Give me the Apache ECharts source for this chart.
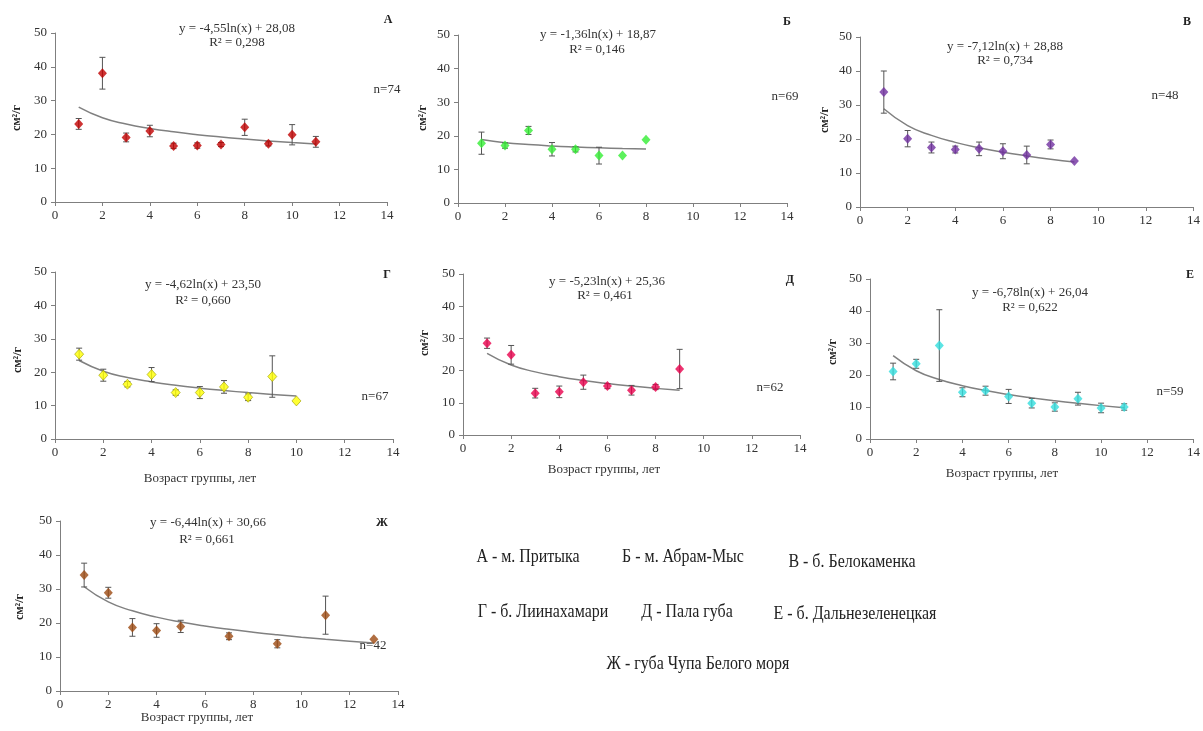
<!DOCTYPE html>
<html><head><meta charset="utf-8">
<script src="https://cdn.jsdelivr.net/npm/echarts@6/dist/echarts.min.js"></script>
<style>html,body{margin:0;padding:0;background:#fff}#c{width:1203px;height:731px}</style>
</head><body><div id="c"></div>
<script>
// ---- data ----
const xA = [1,2,3,4,5,6,7,8,9,10,11];
const yA = [23.1,38.1,19.1,21.0,16.6,16.7,17.0,22.1,17.2,19.9,17.8];
const eA = [1.6,4.7,1.3,1.7,0.8,0.8,0.6,2.4,0.6,3.0,1.6];
const tA = [28.08,24.93,23.08,21.77,20.76,19.93,19.23,18.62,18.08,17.60,17.17];

const xB = [1,2,3,4,5,6,7,8];
const yB = [17.8,17.1,21.6,16.0,16.0,14.1,14.1,18.8];
const eB = [3.3,0.8,1.2,2.0,0.8,2.5,0,0];
const tB = [18.87,17.93,17.38,16.98,16.68,16.43,16.22,16.04];

const xV = [1,2,3,4,5,6,7,8,9];
const yV = [33.8,20.1,17.5,16.9,17.1,16.4,15.3,18.4,13.5];
const eV = [6.2,2.4,1.6,1.0,2.0,2.2,2.6,1.3,0];
const tV = [28.88,23.95,21.06,19.01,17.42,16.12,15.03,14.07,13.24];

const xG = [1,2,3,4,5,6,7,8,9,10];
const yG = [25.4,19.1,16.4,19.3,13.9,13.9,15.6,12.5,18.7,11.4];
const eG = [1.8,1.8,0.8,2.1,0.8,1.8,1.9,1.0,6.2,0];
const tG = [23.50,20.30,18.42,17.10,16.06,15.22,14.51,13.89,13.35,12.86];

const xD = [1,2,3,4,5,6,7,8,9];
const yD = [28.5,24.9,13.0,13.4,16.4,15.2,13.9,14.9,20.5];
const eD = [1.6,2.9,1.5,1.8,2.2,0.8,1.5,0.8,6.1];
const tD = [25.36,21.73,19.61,18.11,16.94,15.99,15.18,14.48,13.87];

const xE = [1,2,3,4,5,6,7,8,9,10,11];
const yE = [21.1,23.5,29.2,14.6,15.1,13.3,11.2,10.0,12.6,9.7,10.0];
const eE = [2.6,1.4,11.2,1.4,1.4,2.2,1.5,1.3,2.0,1.5,1.0];
const tE = [26.04,21.34,18.59,16.64,15.13,13.89,12.85,11.94,11.14,10.43,9.78];

const xZ = [1,2,3,4,5,7,9,11,13];
const yZ = [34.1,28.9,18.7,17.8,19.0,16.1,13.9,22.3,15.2];
const eZ = [3.5,1.6,2.6,2.0,1.8,1.0,1.2,5.6,0];
const txZ = [1,2,3,4,5,6,7,8,9,10,11,12,13];
const tZ = [30.66,26.20,23.58,21.73,20.30,19.12,18.13,17.27,16.51,15.83,15.22,14.66,14.14];

const xTicks = [0,2,4,6,8,10,12,14];
const yTicks = [0,10,20,30,40,50];

const equations = ['y = -4,55ln(x) + 28,08','y = -1,36ln(x) + 18,87','y = -7,12ln(x) + 28,88',
  'y = -4,62ln(x) + 23,50','y = -5,23ln(x) + 25,36','y = -6,78ln(x) + 26,04','y = -6,44ln(x) + 30,66'];
const r2 = ['R² = 0,298','R² = 0,146','R² = 0,734','R² = 0,660','R² = 0,461','R² = 0,622','R² = 0,661'];
const letters = ['А','Б','В','Г','Д','Е','Ж'];
const nLabels = ['n=74','n=69','n=48','n=67','n=62','n=59','n=42'];
const legendTexts = ['А - м. Притыка','Б - м. Абрам-Мыс','В - б. Белокаменка',
  'Г - б. Лиинахамари','Д - Пала губа','Е - б. Дальнезеленецкая','Ж - губа Чупа Белого моря'];
const yName = 'см²/г';
const xName = 'Возраст группы, лет';

// ---- layout / style ----
const FONT = 'Liberation Serif';
const panels = [
  {x:xA,y:yA,e:eA,tx:xA,ty:tA,color:'#C00000',grid:{left:55,top:33,width:332,height:169},
   eq:[237,29],r2:[237,43],let:[388,20],n:[387,90],yn:[17,118]},
  {x:xB,y:yB,e:eB,tx:xB,ty:tB,color:'#33EE33',grid:{left:458,top:35,width:329,height:168},
   eq:[598,35],r2:[597,50],let:[787,22],n:[785,97],yn:[423,118]},
  {x:xV,y:yV,e:eV,tx:xV,ty:tV,color:'#7030A0',grid:{left:860,top:37,width:337,height:170},
   eq:[1005,47],r2:[1005,61],let:[1187,22],n:[1165,96],yn:[825,120]},
  {x:xG,y:yG,e:eG,tx:xG,ty:tG,color:'#FFFF00',border:'#A0A000',grid:{left:55,top:272,width:338,height:167},
   eq:[203,285],r2:[203,301],let:[387,275],n:[375,397],yn:[18,360],xn:[200,479]},
  {x:xD,y:yD,e:eD,tx:xD,ty:tD,color:'#E8004C',grid:{left:463,top:274,width:337,height:161},
   eq:[607,282],r2:[605,296],let:[790,280],n:[770,388],yn:[425,343],xn:[604,470]},
  {x:xE,y:yE,e:eE,tx:xE,ty:tE,color:'#33DDDD',grid:{left:870,top:279,width:324,height:160},
   eq:[1030,293],r2:[1030,308],let:[1190,275],n:[1170,392],yn:[833,352],xn:[1002,474]},
  {x:xZ,y:yZ,e:eZ,tx:txZ,ty:tZ,color:'#9C4A12',grid:{left:60,top:521,width:338,height:170},
   eq:[208,523],r2:[207,540],let:[382,523],n:[373,646],yn:[20,607],xn:[197,718]}
];
const legendPos = [[528,557],[683,557],[852,562],[543,612],[687,612],[855,614],[698,664]];

const grids=[], xAxes=[], yAxes=[], series=[], graphic=[];
const axisLineStyle = {color:'#7f7f7f', width:1};
const labelStyle = {color:'#333', fontFamily:FONT, fontSize:13};

function txt(t, pos, opts){
  return Object.assign({type:'text', x:pos[0], y:pos[1], silent:true,
    style:Object.assign({text:t, fill:'#333', font:'13px "'+FONT+'"', align:'center', verticalAlign:'middle'}, opts||{})});
}

panels.forEach((p,i)=>{
  grids.push(Object.assign({containLabel:false}, p.grid));
  xAxes.push({type:'value', gridIndex:i, min:xTicks[0], max:xTicks[xTicks.length-1], interval:xTicks[1]-xTicks[0],
    axisLine:{show:true, onZero:false, lineStyle:axisLineStyle},
    axisTick:{show:true, inside:false, length:4, lineStyle:axisLineStyle},
    axisLabel:Object.assign({margin:7}, labelStyle), splitLine:{show:false}});
  yAxes.push({type:'value', gridIndex:i, min:yTicks[0], max:yTicks[yTicks.length-1], interval:yTicks[1]-yTicks[0],
    axisLine:{show:true, lineStyle:axisLineStyle},
    axisTick:{show:true, inside:false, length:4, lineStyle:axisLineStyle},
    axisLabel:Object.assign({margin:8}, labelStyle), splitLine:{show:false}});
  series.push({type:'line', xAxisIndex:i, yAxisIndex:i, data:p.tx.map((v,k)=>[v,p.ty[k]]),
    showSymbol:false, smooth:0.5, silent:true,
    lineStyle:{color:'#808080', width:1.5}, z:2});
  series.push({type:'custom', xAxisIndex:i, yAxisIndex:i, data:p.x.map((v,k)=>[v,p.y[k],p.e[k]]),
    encode:{x:0,y:1}, silent:true, z:3,
    renderItem:function(params, api){
      const xv=api.value(0), yv=api.value(1), ev=api.value(2);
      if(!ev) return {type:'group', children:[]};
      const t=api.coord([xv,yv+ev]), b=api.coord([xv,yv-ev]);
      const st={stroke:'#555', lineWidth:1};
      return {type:'group', children:[
        {type:'line', shape:{x1:t[0],y1:t[1],x2:b[0],y2:b[1]}, style:st},
        {type:'line', shape:{x1:t[0]-3,y1:t[1],x2:t[0]+3,y2:t[1]}, style:st},
        {type:'line', shape:{x1:b[0]-3,y1:b[1],x2:b[0]+3,y2:b[1]}, style:st}
      ]};
    }});
  series.push({type:'scatter', xAxisIndex:i, yAxisIndex:i, data:p.x.map((v,k)=>[v,p.y[k]]),
    symbol:'diamond', symbolSize:[9,10], z:4, silent:true,
    itemStyle:{color:p.color, borderColor:p.border||p.color, borderWidth:p.border?0.8:0}});
  graphic.push(txt(equations[i], p.eq, {font:'13px "'+FONT+'"'}));
  graphic.push(txt(r2[i], p.r2, {font:'13px "'+FONT+'"'}));
  graphic.push(txt(letters[i], p.let, {font:'bold 12px "'+FONT+'"', fill:'#222'}));
  graphic.push(txt(nLabels[i], p.n, {font:'13px "'+FONT+'"'}));
  graphic.push(Object.assign(txt(yName, [0,0], {font:'bold 12px "'+FONT+'"', fill:'#222'}),
    {x:p.yn[0], y:p.yn[1], rotation:Math.PI/2}));
  if(p.xn) graphic.push(txt(xName, p.xn, {font:'13px "'+FONT+'"'}));
});
legendTexts.forEach((t,i)=>{
  graphic.push(Object.assign(txt(t,[0,0],{font:'19px "'+FONT+'"', fill:'#222'}),
    {x:legendPos[i][0], y:legendPos[i][1], scaleX:0.84}));
});

const chart = echarts.init(document.getElementById('c'), null, {renderer:'canvas'});
chart.setOption({animation:false, backgroundColor:'#fff', grid:grids, xAxis:xAxes, yAxis:yAxes, series:series, graphic:graphic});
</script></body></html>
